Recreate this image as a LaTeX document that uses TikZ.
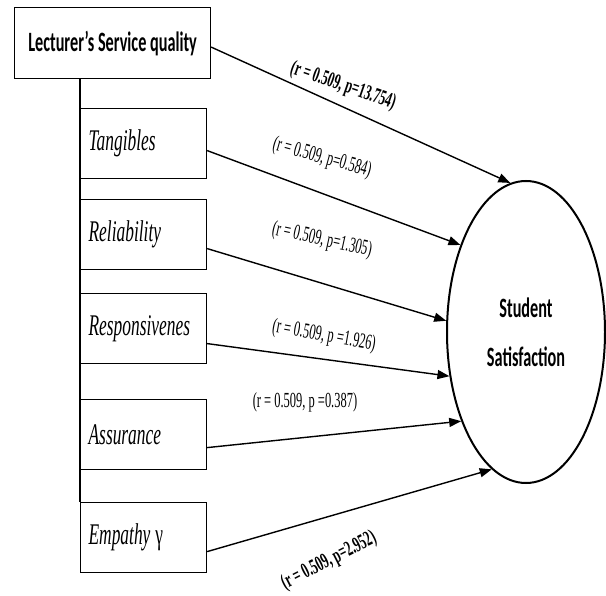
\documentclass[tikz,border=0pt]{standalone}
\usepackage{fontspec}
\usepackage{tikz}
\usetikzlibrary{arrows.meta,shapes.geometric}
\newfontfamily\cajafont[FakeStretch=0.58]{Carlito}
\newfontfamily\tnr[FakeStretch=0.58]{Liberation Serif}

\begin{document}
\begin{tikzpicture}[x=1pt,y=1pt,
  cab/.style={draw, line width=1.2pt, anchor=north west, minimum width=196pt, minimum height=71pt,
              font=\cajafont\bfseries\fontsize{28}{32}\selectfont},
  dim/.style={draw, line width=1.2pt, anchor=north west, text width=110pt, inner xsep=8pt,
              align=left, minimum height=70pt, font=\tnr\itshape\fontsize{30}{34}\selectfont},
  etq/.style={font=\tnr\fontsize{21.5}{24}\selectfont, inner sep=0pt},
  enlace/.style={-{Triangle[length=12pt,width=9pt]}, line width=1.4pt}]
\useasboundingbox (0,0) rectangle (606,-596);
\node[cab] (lsq) at (14,-7) {Lecturer’s Service quality};
\node[dim] (tang) at (80,-108) {Tangibles};
\node[dim] (reli) at (80,-199) {Reliability};
\node[dim] (resp) at (80,-293) {Responsivenes};
\node[dim] (assu) at (80,-399) {Assurance};
\node[dim] (empa) at (80,-502) {Empathy\,{\upshape γ}};
\node[ellipse, draw, line width=2pt, minimum width=158pt, minimum height=302pt, inner sep=0pt, align=center,
      font=\cajafont\bfseries\fontsize{28}{49}\selectfont] (sat) at (526,-332) {Student\\Satisfaction};
\draw[line width=1.2pt] (lsq.south -| empa.west) -- (empa.north west);
\draw[enlace] ([yshift=-4pt]lsq.east) -- (sat.96);
\draw[enlace] ([yshift=-7pt]tang.east) -- (sat.127);
\draw[enlace] ([yshift=-14pt]reli.east) -- (sat.172);
\draw[enlace] ([yshift=-15pt]resp.east) -- (sat.210.6);
\draw[enlace] ([yshift=-13pt]assu.east) -- (sat.234);
\draw[enlace] ([yshift=-14pt]empa.east) -- (sat.256);
\node[etq, font=\tnr\bfseries\fontsize{21.5}{24}\selectfont, rotate=-19] (l1) at (343,-86) {(r = 0.509, p=13.754)};
\node[etq, rotate=-15.6] (l2) at (322,-158) {(r = 0.509, p=0.584)};
\node[etq, rotate=-12.4] (l3) at (322,-240) {(r = 0.509, p=1.305)};
\node[etq, rotate=-10] (l4) at (324,-336) {(r = 0.509, p =1.926)};
\node[etq] (l5) at (305,-402) {(r = 0.509, p =0.387)};
\node[etq, font=\tnr\bfseries\fontsize{21.5}{24}\selectfont, rotate=27] (l6) at (329,-561) {(r = 0.509, p=2.952)};
\end{tikzpicture}
\end{document}
